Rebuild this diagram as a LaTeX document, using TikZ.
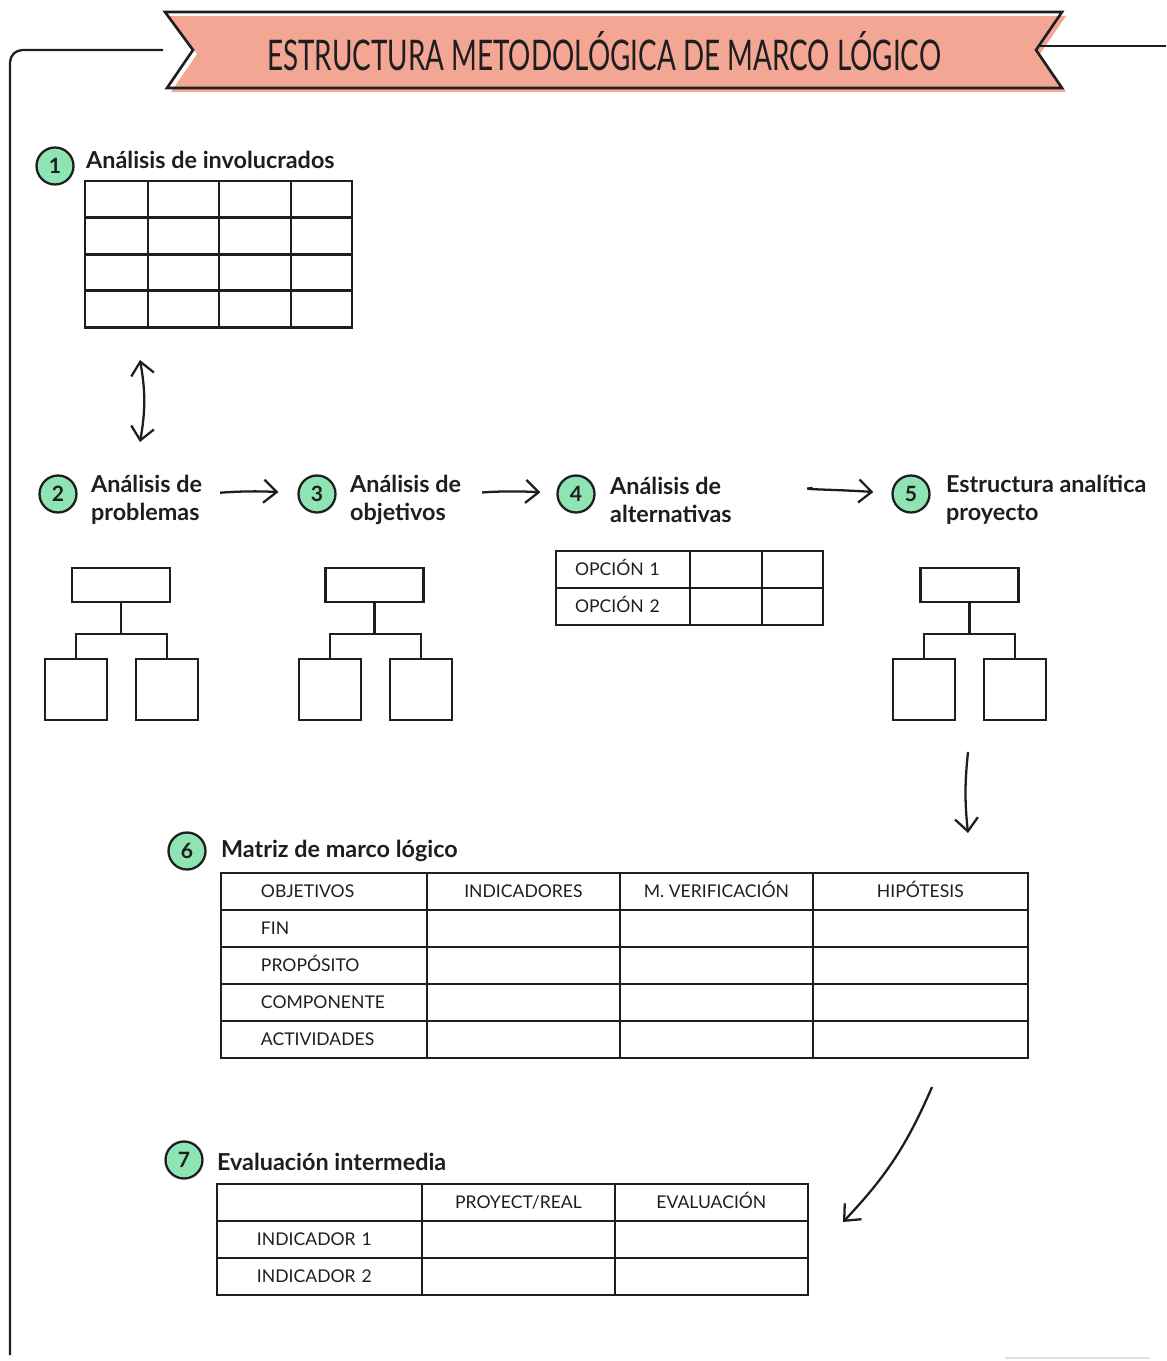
\documentclass[tikz,border=0pt]{standalone}
\usepackage{fontspec}
\setmainfont{Lato}
\newfontfamily\bannerfont[FakeStretch=0.66]{Lato}
\usetikzlibrary{chains,positioning,arrows.meta}
\definecolor{mint}{RGB}{142,228,178}
\definecolor{salmon}{RGB}{243,166,148}
\definecolor{ink}{RGB}{30,30,30}

\begin{document}
\begin{tikzpicture}[x=0.02cm,y=-0.02cm,color=ink]
\tikzstyle{every path}=[line width=1.3pt]
\edef\cellh{0.74cm}
\tikzstyle{cell}=[draw,outer sep=0pt,inner sep=0pt,minimum height=\cellh,text height=7pt,text depth=0pt,font=\fontsize{10}{12}\selectfont]
\tikzstyle{lcell}=[align=left]
\tikzstyle{numdot}=[circle,draw,fill=mint,minimum size=0.74cm,inner sep=0pt,font=\bfseries\fontsize{12}{14}\selectfont]
\tikzstyle{steptitle}=[anchor=west,align=left,inner sep=0pt,font=\bfseries\fontsize{13.3}{15.9}\selectfont]
\tikzstyle{treetop}=[draw,outer sep=0pt,minimum width=1.96cm,minimum height=0.68cm]
\tikzstyle{treeleaf}=[draw,outer sep=0pt,minimum width=1.24cm,minimum height=1.22cm]
\tikzstyle{flow}=[-{Straight Barb[length=2.6mm,width=4.6mm]}]
\tikzstyle{flowboth}=[{Straight Barb[length=2.6mm,width=4.6mm]}-{Straight Barb[length=2.6mm,width=4.6mm]}]
\useasboundingbox (0,0) rectangle (1166,1361);

% banner and frame
\fill[salmon] (169,16) -- (1066,16) -- (1040,54) -- (1066,92) -- (171,92) -- (197,54) -- cycle;
\draw[line width=1.5pt] (165,12) -- (1062,12) -- (1036,50) -- (1062,88) -- (167,88) -- (193,50) -- cycle;
\node[font=\bannerfont\fontsize{24}{29}\selectfont] (title) at (604,51) {ESTRUCTURA METODOLÓGICA DE MARCO LÓGICO};
\draw[rounded corners=0.25cm] (163,50) -| (10,1355);
\draw (1040,46) -- (1166,46);
\draw[black!12] (1005,1358) -- (1150,1358);

% 1
\node[numdot] (n1) at (55,166) {1};
\node[steptitle] (h1) at (85,160) {Análisis de involucrados};
\begin{scope}[start chain=a1 going right,start chain=a2 going right,start chain=a3 going right,start chain=a4 going right,node distance=0pt]
 \node [on chain=a1,cell,minimum width=1.26cm,anchor=north west] at (85,181) {};
 \node [on chain=a1,cell,minimum width=1.42cm] {};
 \node [on chain=a1,cell,minimum width=1.44cm] {};
 \node [on chain=a1,cell,minimum width=1.22cm] {};
 \node [on chain=a2,cell,minimum width=1.26cm,anchor=north west] at (85,217.5) {};
 \node [on chain=a2,cell,minimum width=1.42cm] {};
 \node [on chain=a2,cell,minimum width=1.44cm] {};
 \node [on chain=a2,cell,minimum width=1.22cm] {};
 \node [on chain=a3,cell,minimum width=1.26cm,anchor=north west] at (85,254) {};
 \node [on chain=a3,cell,minimum width=1.42cm] {};
 \node [on chain=a3,cell,minimum width=1.44cm] {};
 \node [on chain=a3,cell,minimum width=1.22cm] {};
 \node [on chain=a4,cell,minimum width=1.26cm,anchor=north west] at (85,290.5) {};
 \node [on chain=a4,cell,minimum width=1.42cm] {};
 \node [on chain=a4,cell,minimum width=1.44cm] {};
 \node [on chain=a4,cell,minimum width=1.22cm] {};
\end{scope}
\coordinate (up1) at (140,360);
\coordinate (dn1) at (140,442);
\draw[flowboth] (up1) to[bend left=10] (dn1);

% 2 to 5
\node[numdot] (n2) at (58,494) {2};
\node[steptitle] (h2) at (90,500) {Análisis de\\problemas};
\node[numdot] (n3) at (317,494) {3};
\node[steptitle] (h3) at (349,500) {Análisis de\\objetivos};
\node[numdot] (n4) at (576,494) {4};
\node[steptitle] (h4) at (609,500) {Análisis de\\alternativas};
\node[numdot] (n5) at (911,494) {5};
\node[steptitle] (h5) at (945,500) {Estructura analítica\\proyecto};
\draw[flow,shorten <=0.34cm,shorten >=0.38cm] (h2) to[bend left=4] (n3);
\draw[flow,shorten <=0.4cm,shorten >=0.32cm] (h3) to[bend left=4] (n4);
\draw[flow,shorten <=1.6cm,shorten >=0.36cm] (h4) to[bend left=4] (n5);

\node[treetop] (t2) at (121,585) {};
\node[treeleaf] (l2) at (76,689.5) {};
\node[treeleaf] (r2) at (167,689.5) {};
\coordinate (j2) at (121,634);
\draw (t2) -- (j2) (l2) |- (j2) -| (r2);

\node[treetop] (t3) at (374.5,585) {};
\node[treeleaf] (l3) at (330,689.5) {};
\node[treeleaf] (r3) at (421,689.5) {};
\coordinate (j3) at (374.5,634);
\draw (t3) -- (j3) (l3) |- (j3) -| (r3);

\begin{scope}[start chain=o1 going right,start chain=o2 going right,node distance=0pt]
 \node [on chain=o1,cell,lcell,anchor=north west,inner xsep=0.38cm,text width=1.92cm] at (556,551) {OPCIÓN 1};
 \node [on chain=o1,cell,minimum width=1.44cm] {};
 \node [on chain=o1,cell,minimum width=1.22cm] {};
 \node [on chain=o2,cell,lcell,anchor=north west,inner xsep=0.38cm,text width=1.92cm] at (556,588) {OPCIÓN 2};
 \node [on chain=o2,cell,minimum width=1.44cm] {};
 \node [on chain=o2,cell,minimum width=1.22cm] {};
\end{scope}

\node[treetop] (t5) at (969.5,585) {};
\node[treeleaf] (l5) at (924,689.5) {};
\node[treeleaf] (r5) at (1015,689.5) {};
\coordinate (j5) at (969.5,634);
\draw (t5) -- (j5) (l5) |- (j5) -| (r5);
\coordinate (up5) at (968,752);
\coordinate (dn5) at (968,833);
\draw[flow] (up5) to[bend right=6] (dn5);

% 6
\node[numdot] (n6) at (187,851) {6};
\node[steptitle] (h6) at (220,851) {Matriz de marco lógico};
\begin{scope}[start chain=m1 going right,start chain=m2 going right,start chain=m3 going right,start chain=m4 going right,start chain=m5 going right,node distance=0pt]
 \node [on chain=m1,cell,lcell,anchor=north west,inner xsep=0.8cm,text width=2.52cm] at (221,873) {OBJETIVOS};
 \node [on chain=m1,cell,minimum width=3.86cm] {INDICADORES};
 \node [on chain=m1,cell,minimum width=3.86cm] {M. VERIFICACIÓN};
 \node [on chain=m1,cell,minimum width=4.3cm] {HIPÓTESIS};
 \node [on chain=m2,cell,lcell,anchor=north west,inner xsep=0.8cm,text width=2.52cm] at (221,910) {FIN};
 \node [on chain=m2,cell,minimum width=3.86cm] {};
 \node [on chain=m2,cell,minimum width=3.86cm] {};
 \node [on chain=m2,cell,minimum width=4.3cm] {};
 \node [on chain=m3,cell,lcell,anchor=north west,inner xsep=0.8cm,text width=2.52cm] at (221,947) {PROPÓSITO};
 \node [on chain=m3,cell,minimum width=3.86cm] {};
 \node [on chain=m3,cell,minimum width=3.86cm] {};
 \node [on chain=m3,cell,minimum width=4.3cm] {};
 \node [on chain=m4,cell,lcell,anchor=north west,inner xsep=0.8cm,text width=2.52cm] at (221,984) {COMPONENTE};
 \node [on chain=m4,cell,minimum width=3.86cm] {};
 \node [on chain=m4,cell,minimum width=3.86cm] {};
 \node [on chain=m4,cell,minimum width=4.3cm] {};
 \node [on chain=m5,cell,lcell,anchor=north west,inner xsep=0.8cm,text width=2.52cm] at (221,1021) {ACTIVIDADES};
 \node [on chain=m5,cell,minimum width=3.86cm] {};
 \node [on chain=m5,cell,minimum width=3.86cm] {};
 \node [on chain=m5,cell,minimum width=4.3cm] {};
\end{scope}
\coordinate (up6) at (932,1087);
\coordinate (dn6) at (843,1222);
\draw[flow] (up6) to[bend left=10] (dn6);

% 7
\node[numdot] (n7) at (184,1160) {7};
\node[steptitle] (h7) at (216,1162) {Evaluación intermedia};
\begin{scope}[start chain=e1 going right,start chain=e2 going right,start chain=e3 going right,node distance=0pt]
 \node [on chain=e1,cell,anchor=north west,minimum width=4.1cm] at (217,1184) {};
 \node [on chain=e1,cell,minimum width=3.86cm] {PROYECT/REAL};
 \node [on chain=e1,cell,minimum width=3.86cm] {EVALUACIÓN};
 \node [on chain=e2,cell,lcell,anchor=north west,inner xsep=0.8cm,text width=2.5cm] at (217,1221) {INDICADOR 1};
 \node [on chain=e2,cell,minimum width=3.86cm] {};
 \node [on chain=e2,cell,minimum width=3.86cm] {};
 \node [on chain=e3,cell,lcell,anchor=north west,inner xsep=0.8cm,text width=2.5cm] at (217,1258) {INDICADOR 2};
 \node [on chain=e3,cell,minimum width=3.86cm] {};
 \node [on chain=e3,cell,minimum width=3.86cm] {};
\end{scope}
\end{tikzpicture}
\end{document}
